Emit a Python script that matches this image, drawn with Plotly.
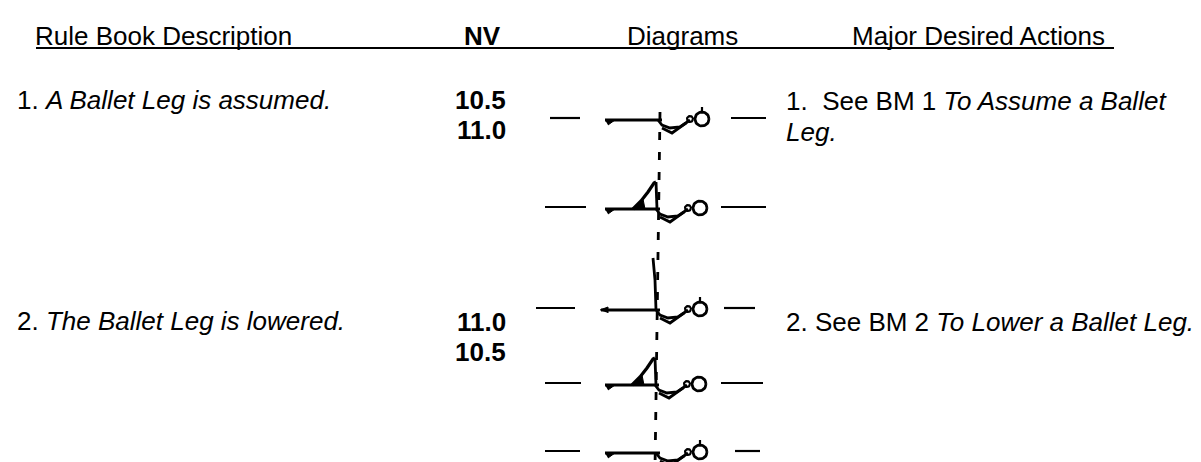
import numpy as np
import plotly.graph_objects as go

W, H = 1201, 462

# ---------------- text content ----------------
header_labels = ["Rule Book Description", "<b>NV</b>", "Diagrams", "Major Desired Actions"]
header_x = [26, 455, 618, 843]
header_y = 27.5

descriptions = ["1. <i>A Ballet Leg is assumed.</i>", "2. <i>The Ballet Leg is lowered.</i>"]
desc_y = [91.5, 312.5]

nv_values = ["10.5", "11.0", "11.0", "10.5"]
nv_y = [91.5, 121.5, 313.5, 343.5]

actions = ["1.\u00a0 See BM 1 <i>To Assume a Ballet</i>", "<i>Leg.</i>",
           "2. See BM 2 <i>To Lower a Ballet Leg.</i>"]
actions_y = [92.5, 123.5, 314]

# ---------------- diagram layout ----------------
diag_y = [112, 201, 302, 377, 445]
diag_leg = ["flat", "bent", "vertical", "bent", "flat"]
diag_left_dash = [(542, 572), (537, 578), (528, 567), (537, 573), (537, 572)]
diag_right_dash = [(723, 758), (713, 758), (716, 747), (713, 755), (727, 752)]
diag_body_start = [597, 597, 593, 597, 597]
diag_hip = [650, 648, 648, 647, 648]
diag_head_tick = [True, False, True, False, True]

# relative figure parts (offsets from hip point)
under_curve = [(0, 0), (4, 5), (12, 8), (22, 7), (28, 3)]
arm_v = [(4, 8), (14, 13), (32, 0)]
head_dx, head_dy, head_r = 44, -1, 7
loop_dx, loop_dy, loop_r = 32, -1, 3
bent_left = [(-23, 0), (-15, -8), (-8, -17), (-2, -26), (0, -27)]
bent_fill = [(-23, 0), (-13, -10), (-11, 0)]
vertical_leg = [(0, 0), (-1, -30), (-3, -52)]

fig = go.Figure()
LW = 2.8


def poly(xs, ys, width=LW, dash=None):
    fig.add_trace(go.Scatter(x=xs, y=ys, mode="lines", hoverinfo="skip",
                             line=dict(color="black", width=width, dash=dash),
                             showlegend=False))


def filled(xs, ys):
    fig.add_trace(go.Scatter(x=xs, y=ys, mode="lines", fill="toself",
                             fillcolor="black", hoverinfo="skip",
                             line=dict(color="black", width=1), showlegend=False))


def circle(cx, cy, r, width=LW):
    t = np.linspace(0, 2 * np.pi, 40)
    poly(cx + r * np.cos(t), cy + r * np.sin(t), width)


# header underline
poly([28, 1106], [40, 40], width=2)

# vertical dashed centre line
poly([652, 647], [104, 462], width=2.8, dash="8px,12px")

for yc, leg, ld, rd, bx, hx, tick in zip(diag_y, diag_leg, diag_left_dash,
                                         diag_right_dash, diag_body_start,
                                         diag_hip, diag_head_tick):
    # side water-line dashes
    poly(list(ld), [yc - 2, yc - 2], width=2.2)
    poly(list(rd), [yc - 2, yc - 2], width=2.2)
    # body
    poly([bx, hx + 4], [yc, yc], width=3)
    if leg == "vertical":
        filled([bx - 1, bx + 7, bx + 7], [yc, yc - 3, yc + 3])
    else:
        filled([bx, bx + 10, bx + 3], [yc, yc, yc + 5])
    # under curve, arms, head
    poly([hx + dx for dx, dy in under_curve], [yc + dy for dx, dy in under_curve])
    poly([hx + dx for dx, dy in arm_v], [yc + dy for dx, dy in arm_v])
    circle(hx + loop_dx, yc + loop_dy, loop_r, width=2.2)
    circle(hx + head_dx, yc + head_dy, head_r)
    if tick:
        poly([hx + head_dx, hx + head_dx], [yc + head_dy - head_r - 1, yc + head_dy - head_r - 5], width=2.2)
    # leg
    if leg == "bent":
        poly([hx + dx for dx, dy in bent_left], [yc + dy for dx, dy in bent_left], width=3.2)
        poly([hx, hx + 1], [yc - 27, yc])
        filled([hx + dx for dx, dy in bent_fill], [yc + dy for dx, dy in bent_fill])
    elif leg == "vertical":
        poly([hx + dx for dx, dy in vertical_leg], [yc + dy for dx, dy in vertical_leg])

FONT = dict(family="Liberation Sans, Arial, Helvetica, sans-serif", size=26, color="black")


def text(x, y, s, anchor="left"):
    fig.add_annotation(x=x, y=y, xref="x", yref="y", text=s, showarrow=False,
                       xanchor=anchor, yanchor="middle", font=FONT, borderpad=0)


for lbl, x in zip(header_labels, header_x):
    text(x, header_y, lbl)
for s, y in zip(descriptions, desc_y):
    text(8, y, s)
for s, y in zip(nv_values, nv_y):
    text(499, y, "<b>%s</b>" % s, anchor="right")
for s, y in zip(actions, actions_y):
    text(777, y, s)

fig.update_layout(
    width=W, height=H, margin=dict(l=0, r=0, t=0, b=0),
    paper_bgcolor="white", plot_bgcolor="white", showlegend=False,
    xaxis=dict(range=[0, W], visible=False, fixedrange=True),
    yaxis=dict(range=[H, 0], visible=False, fixedrange=True),
)
fig.write_html("out.html")
